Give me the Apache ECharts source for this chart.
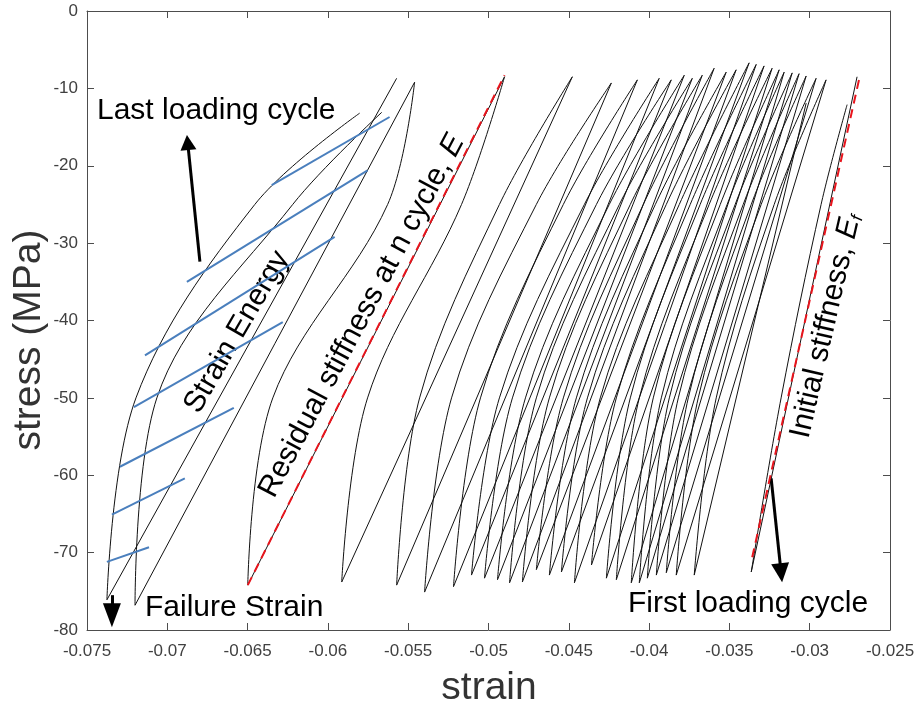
<!DOCTYPE html>
<html><head><meta charset="utf-8">
<script src="https://cdn.jsdelivr.net/npm/echarts@6/dist/echarts.min.js"></script>
<style>html,body{margin:0;padding:0;background:#fff}#c{width:920px;height:713px}</style>
</head><body><div id="c"></div>
<script>
// ---- tick labels ----
const xTickValues = [-0.075,-0.07,-0.065,-0.06,-0.055,-0.05,-0.045,-0.04,-0.035,-0.03,-0.025];
const xTickLabels = ['-0.075','-0.07','-0.065','-0.06','-0.055','-0.05','-0.045','-0.04','-0.035','-0.03','-0.025'];
const yTickValues = [-80,-70,-60,-50,-40,-30,-20,-10,0];
const yTickLabels = ['-80','-70','-60','-50','-40','-30','-20','-10','0'];

// ---- cycles in time order (first cycle = rightmost) ----
// start (top) of each loading branch (strain, stress MPa)
const peakStrain = [-0.02705,-0.03022,-0.02898,-0.02960,-0.03022,-0.03066,-0.03109,-0.03159,-0.03190,-0.03234,-0.03284,-0.03333,-0.03377,-0.03458,-0.03520,-0.03595,-0.03669,-0.03731,-0.03781,-0.03862,-0.03937,-0.04073,-0.04235,-0.04478,-0.04900,-0.05460,-0.05572];
const peakStress = [-8.5,-11.9,-8.9,-8.7,-8.4,-8.1,-8.0,-7.9,-7.6,-7.4,-7.1,-6.9,-6.7,-7.6,-7.9,-7.4,-8.3,-8.7,-8.3,-8.9,-8.7,-8.9,-9.3,-8.5,-8.5,-9.2,-8.7];
// bottom of each cycle
const bottomStrain = [-0.03364,-0.03719,-0.03831,-0.03893,-0.03955,-0.04011,-0.04061,-0.04111,-0.04204,-0.04266,-0.04359,-0.04465,-0.04546,-0.04621,-0.04702,-0.04789,-0.04869,-0.04944,-0.05025,-0.05106,-0.05218,-0.05398,-0.05572,-0.05914,-0.06499,-0.07201,-0.07376];
const bottomStress = [-72.5,-72.9,-72.9,-72.6,-72.9,-73.3,-73.9,-73.9,-73.5,-73.3,-71.6,-73.9,-72.5,-72.9,-72.2,-73.8,-73.9,-73.5,-73.3,-72.9,-74.4,-75.1,-74.2,-73.8,-74.2,-76.8,-76.1];
// unloading branch: strain where it crosses -50 MPa and -25 MPa
const unloadLevels = [-50, -25];
const unloadAt50 = [-0.03178,-0.03582,-0.03694,-0.03756,-0.03818,-0.03874,-0.03924,-0.03974,-0.04061,-0.04117,-0.04204,-0.04304,-0.04384,-0.04453,-0.04534,-0.04621,-0.04702,-0.04770,-0.04851,-0.04932,-0.05050,-0.05230,-0.05429,-0.05753,-0.06343,-0.07065,-0.07195];
const unloadAt25 = [-0.02929,-0.03221,-0.03302,-0.03364,-0.03414,-0.03464,-0.03514,-0.03557,-0.03626,-0.03682,-0.03744,-0.03812,-0.03893,-0.03961,-0.04036,-0.04117,-0.04185,-0.04248,-0.04328,-0.04403,-0.04534,-0.04702,-0.04932,-0.05168,-0.05628,-0.06219,-0.06455];
// end (top) of each unloading branch
const unloadEndStrain = [-0.02767,-0.02898,-0.02960,-0.03022,-0.03066,-0.03109,-0.03159,-0.03190,-0.03234,-0.03284,-0.03333,-0.03377,-0.03458,-0.03520,-0.03595,-0.03669,-0.03731,-0.03781,-0.03862,-0.03937,-0.04073,-0.04235,-0.04478,-0.04900,-0.05460,-0.05665,-0.05802];
const unloadEndStress = [-12.1,-8.9,-8.7,-8.4,-8.1,-8.0,-7.9,-7.6,-7.4,-7.1,-6.9,-6.7,-7.6,-7.9,-7.4,-8.3,-8.7,-8.3,-8.9,-8.7,-8.9,-9.3,-8.5,-8.5,-9.2,-13.1,-13.2];

// ---- strain energy hatch (blue) ----
const blueStartStrain = [-0.06350,-0.06878,-0.07139,-0.07208,-0.07295,-0.07345,-0.07376];
const blueStartStress = [-22.5,-35.0,-44.5,-51.2,-58.9,-65.1,-71.2];
const blueEndStrain   = [-0.05616,-0.05753,-0.05958,-0.06281,-0.06586,-0.06891,-0.07114];
const blueEndStress   = [-13.7,-20.6,-29.2,-40.2,-51.3,-60.4,-69.3];

// ---- stiffness lines (red dashed) ----
const residualLine = [[-0.06499,-74.2],[-0.04900,-8.3]];
const initialLine  = [[-0.03358,-70.6],[-0.02693,-8.9]];

// ---- annotation arrows (tail, head) in data units ----
const arrowLast  = [[-0.06797,-32.4],[-0.06873,-17.0]];
const arrowFail  = [[-0.07345,-75.5],[-0.07345,-78.1]];
const arrowFirst = [[-0.03240,-60.4],[-0.03178,-72.6]];

const FONT = '"Liberation Sans", Arial, Helvetica, sans-serif';
const chart = echarts.init(document.getElementById('c'), null, {renderer:'canvas'});

const series = [];
const black = '#111111';
for (let k = 0; k < peakStrain.length; k++) {
  series.push({
    type:'line', silent:true, symbol:'none', animation:false,
    lineStyle:{color:black, width:1},
    data:[[peakStrain[k], peakStress[k]], [bottomStrain[k], bottomStress[k]]]
  });
  series.push({
    type:'line', silent:true, symbol:'none', animation:false, smooth:0.35,
    lineStyle:{color:black, width:1},
    data:[[bottomStrain[k], bottomStress[k]], [unloadAt50[k], unloadLevels[0]], [unloadAt25[k], unloadLevels[1]], [unloadEndStrain[k], unloadEndStress[k]]]
  });
}
for (let i = 0; i < blueStartStrain.length; i++) {
  series.push({
    type:'line', silent:true, symbol:'none', animation:false, z:5,
    lineStyle:{color:'#4a7fbd', width:2},
    data:[[blueStartStrain[i], blueStartStress[i]], [blueEndStrain[i], blueEndStress[i]]]
  });
}
[residualLine, initialLine].forEach(l => series.push({
  type:'line', silent:true, symbol:'none', animation:false, z:6,
  lineStyle:{color:'#e8141c', width:2, type:[9,6]}, data:l
}));
function arrowSeries(a, size) {
  return {
    type:'line', data:[], silent:true, animation:false, z:7,
    markLine:{
      silent:true, animation:false, symbol:['none','triangle'], symbolSize:size,
      label:{show:false}, lineStyle:{color:'#000', width:3, type:'solid'},
      emphasis:{disabled:true},
      data:[[{coord:a[0]}, {coord:a[1]}]]
    }
  };
}
series.push(arrowSeries(arrowLast, [16,15]));
series.push(arrowSeries(arrowFail, [18,24]));
series.push(arrowSeries(arrowFirst, [18,19]));

const axisCol = '#4d4d4d';
const xFmt = v => { for (let i=0;i<xTickValues.length;i++) if (Math.abs(xTickValues[i]-v)<1e-9) return xTickLabels[i]; return ''; };
const yFmt = v => { for (let i=0;i<yTickValues.length;i++) if (Math.abs(yTickValues[i]-v)<1e-9) return yTickLabels[i]; return ''; };

const xBase = {type:'value', min:-0.075, max:-0.025, interval:0.005, splitLine:{show:false},
  axisLine:{show:true, onZero:false, lineStyle:{color:axisCol, width:1}},
  axisTick:{show:true, inside:true, length:7, lineStyle:{color:axisCol}}};
const yBase = {type:'value', min:-80, max:0, interval:10, splitLine:{show:false},
  axisLine:{show:true, onZero:false, lineStyle:{color:axisCol, width:1}},
  axisTick:{show:true, inside:true, length:7, lineStyle:{color:axisCol}}};

chart.setOption({
  animation:false,
  backgroundColor:'#ffffff',
  grid:{left:87, right:30, top:11, bottom:83, containLabel:false, outerBoundsMode:'none'},
  xAxis:[
    Object.assign({}, xBase, {position:'bottom', axisLabel:{show:true, margin:13, fontSize:17, color:'#404040', fontFamily:FONT, formatter:xFmt}}),
    Object.assign({}, xBase, {position:'top', axisLabel:{show:false}})
  ],
  yAxis:[
    Object.assign({}, yBase, {position:'left', axisLabel:{show:true, margin:9, fontSize:17, color:'#404040', fontFamily:FONT, formatter:yFmt}}),
    Object.assign({}, yBase, {position:'right', axisLabel:{show:false}})
  ],
  series: series,
  graphic:[
    {type:'text', x:489, y:688, silent:true, style:{text:'strain', font:'39px '+FONT, fill:'#333', align:'center', verticalAlign:'middle'}},
    {type:'text', x:29, y:340, rotation:Math.PI/2, silent:true, style:{text:'stress (MPa)', font:'39px '+FONT, fill:'#333', align:'center', verticalAlign:'middle'}},
    {type:'text', x:97, y:111, silent:true, style:{text:'Last loading cycle', font:'30px '+FONT, fill:'#000', align:'left', verticalAlign:'middle'}},
    {type:'text', x:145, y:608, silent:true, style:{text:'Failure Strain', font:'30px '+FONT, fill:'#000', align:'left', verticalAlign:'middle'}},
    {type:'text', x:628, y:604, silent:true, style:{text:'First loading cycle', font:'30px '+FONT, fill:'#000', align:'left', verticalAlign:'middle'}},
    {type:'text', x:237, y:332, rotation:60*Math.PI/180, silent:true, style:{text:'Strain Energy', font:'30px '+FONT, fill:'#000', align:'center', verticalAlign:'middle'}},
    {type:'text', x:362, y:316, rotation:62*Math.PI/180, silent:true, style:{
      text:'Residual stiffness at n cycle, {i|E}', font:'30px '+FONT, fill:'#000', align:'center', verticalAlign:'middle',
      rich:{i:{fontStyle:'italic', fontSize:30, fontFamily:FONT, fill:'#000'}}}},
    {type:'text', x:826, y:326, rotation:77*Math.PI/180, silent:true, style:{
      text:'Initial stiffness, {i|E}{s|f}', font:'30px '+FONT, fill:'#000', align:'center', verticalAlign:'middle',
      rich:{i:{fontStyle:'italic', fontSize:30, fontFamily:FONT, fill:'#000'}, s:{fontStyle:'italic', fontSize:17, fontFamily:FONT, fill:'#000', verticalAlign:'bottom'}}}}
  ]
});
</script>
</body></html>
